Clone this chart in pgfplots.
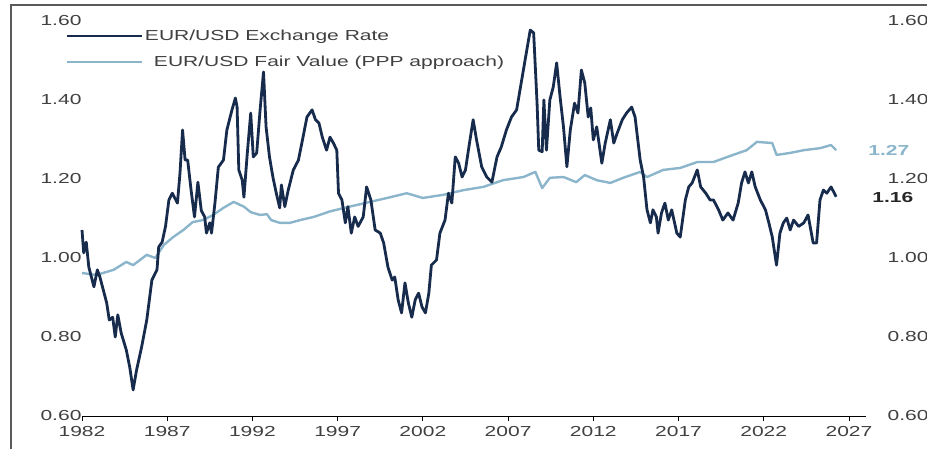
\documentclass[border=0pt]{standalone}
\usepackage{fontspec}
\setmainfont{Liberation Sans}[FakeStretch=1.45]
\usepackage{pgfplots}
\pgfplotsset{compat=1.18}
\definecolor{navy}{HTML}{172B4D}
\definecolor{lblue}{HTML}{8BB5CB}
\definecolor{txt}{HTML}{404040}
\definecolor{frame}{HTML}{5A5A5A}
\newcommand{\lbl}{\fontsize{14.5}{17}\selectfont}
\begin{document}
\begin{tikzpicture}[x=1pt,y=1pt]
\begin{axis}[
  at={(82pt,32pt)}, anchor=south west,
  width=784pt, height=395pt, scale only axis,
  xmin=1982, xmax=2028, ymin=0.6, ymax=1.6,
  axis x line=bottom, axis y line=left,
  x axis line style={-, black, line width=0.9pt},
  y axis line style={draw=none},
  xtick={1982,1987,...,2027},
  ytick={0.6,0.8,1.0,1.2,1.4,1.6},
  tick align=outside, major tick length=5pt,
  xtick style={black, line width=0.8pt},
  ytick style={draw=none},
  /pgf/number format/assume math mode=true,
  xticklabel style={font=\lbl, text=txt, yshift=-2pt, /pgf/number format/1000 sep={}},
  yticklabel style={font=\lbl, text=txt, xshift=8pt, /pgf/number format/fixed, /pgf/number format/fixed zerofill, /pgf/number format/precision=2},
  clip=false,
  reverse legend,
  legend cell align=left,
  legend style={at={(-0.0217,0.983)}, anchor=north west, draw=none, fill=none, font=\lbl, row sep=10pt, inner sep=0pt, nodes={inner sep=2pt, text=txt}},
  legend image code/.code={\draw[#1] (0pt,0pt) -- (75pt,0pt);},
]
\addplot[lblue, line width=2.4pt, line join=round] coordinates {
(1982.0,0.962)(1982.85,0.957)(1983.85,0.97)(1984.6,0.99)(1985.0,0.982)(1985.8,1.008)(1986.3,1.0)(1986.8,1.033)(1987.35,1.053)(1987.95,1.071)(1988.5,1.091)(1989.1,1.096)(1989.7,1.109)(1990.3,1.127)(1990.9,1.142)(1991.5,1.13)(1991.9,1.116)(1992.45,1.109)(1992.85,1.111)(1993.1,1.096)(1993.6,1.089)(1994.2,1.089)(1994.8,1.096)(1995.6,1.104)(1996.55,1.118)(1997.7,1.13)(1998.9,1.142)(2000.1,1.154)(2001.05,1.164)(2002.0,1.152)(2003.2,1.16)(2004.4,1.172)(2005.55,1.18)(2006.7,1.197)(2007.9,1.205)(2008.6,1.218)(2009.0,1.177)(2009.45,1.203)(2010.25,1.205)(2011.0,1.192)(2011.5,1.21)(2012.2,1.197)(2013.0,1.19)(2013.75,1.203)(2014.75,1.218)(2015.15,1.205)(2016.1,1.223)(2017.1,1.228)(2018.1,1.243)(2019.05,1.243)(2020.2,1.261)(2021.0,1.273)(2021.6,1.294)(2022.5,1.291)(2022.75,1.261)(2023.55,1.266)(2024.35,1.273)(2025.3,1.278)(2025.95,1.286)(2026.25,1.273)
};
\addlegendentry{\hspace{9pt}EUR/USD Fair Value (PPP approach)}
\addplot[navy, line width=2.8pt, line join=round] coordinates {
(1982.0,1.071)(1982.1,1.013)(1982.25,1.04)(1982.4,0.977)(1982.7,0.927)(1982.9,0.97)(1983.05,0.952)(1983.45,0.886)(1983.6,0.843)(1983.8,0.85)(1983.95,0.80)(1984.1,0.856)(1984.3,0.81)(1984.6,0.767)(1984.8,0.724)(1985.0,0.666)(1985.2,0.716)(1985.5,0.775)(1985.8,0.843)(1986.1,0.944)(1986.4,0.97)(1986.5,1.028)(1986.7,1.04)(1986.9,1.08)(1987.1,1.147)(1987.3,1.164)(1987.6,1.139)(1987.75,1.215)(1987.9,1.324)(1988.05,1.248)(1988.2,1.248)(1988.4,1.172)(1988.6,1.104)(1988.8,1.192)(1989.0,1.12)(1989.2,1.104)(1989.3,1.063)(1989.5,1.089)(1989.6,1.063)(1989.8,1.139)(1990.0,1.23)(1990.3,1.248)(1990.5,1.324)(1990.8,1.375)(1991.0,1.405)(1991.1,1.382)(1991.2,1.223)(1991.4,1.197)(1991.5,1.154)(1991.7,1.266)(1991.9,1.367)(1992.05,1.256)(1992.25,1.266)(1992.45,1.375)(1992.65,1.471)(1992.8,1.332)(1993.0,1.256)(1993.2,1.205)(1993.4,1.164)(1993.6,1.127)(1993.7,1.185)(1993.9,1.13)(1994.1,1.172)(1994.4,1.223)(1994.7,1.248)(1994.9,1.291)(1995.2,1.357)(1995.5,1.375)(1995.7,1.35)(1995.9,1.342)(1996.1,1.306)(1996.35,1.273)(1996.55,1.306)(1996.75,1.291)(1996.95,1.273)(1997.05,1.164)(1997.25,1.147)(1997.45,1.089)(1997.6,1.13)(1997.8,1.063)(1998.0,1.104)(1998.2,1.08)(1998.5,1.104)(1998.7,1.18)(1998.95,1.147)(1999.2,1.071)(1999.5,1.063)(1999.7,1.038)(1999.95,0.977)(2000.2,0.944)(2000.35,0.952)(2000.55,0.894)(2000.75,0.861)(2000.95,0.937)(2001.15,0.886)(2001.35,0.85)(2001.55,0.894)(2001.75,0.911)(2001.95,0.876)(2002.15,0.861)(2002.35,0.911)(2002.5,0.982)(2002.8,0.995)(2003.0,1.063)(2003.3,1.096)(2003.5,1.164)(2003.7,1.139)(2003.9,1.256)(2004.1,1.24)(2004.3,1.205)(2004.5,1.223)(2004.7,1.281)(2004.95,1.35)(2005.15,1.299)(2005.45,1.231)(2005.75,1.205)(2006.05,1.192)(2006.35,1.256)(2006.6,1.281)(2006.9,1.324)(2007.2,1.357)(2007.5,1.375)(2007.8,1.451)(2008.1,1.527)(2008.3,1.577)(2008.5,1.57)(2008.7,1.392)(2008.8,1.273)(2009.0,1.269)(2009.1,1.40)(2009.25,1.273)(2009.45,1.40)(2009.65,1.433)(2009.85,1.494)(2010.05,1.408)(2010.25,1.332)(2010.45,1.231)(2010.65,1.324)(2010.9,1.392)(2011.1,1.367)(2011.3,1.476)(2011.5,1.443)(2011.7,1.357)(2011.85,1.38)(2012.0,1.299)(2012.2,1.332)(2012.5,1.24)(2012.7,1.291)(2013.0,1.35)(2013.2,1.291)(2013.4,1.316)(2013.7,1.35)(2013.95,1.367)(2014.25,1.382)(2014.45,1.357)(2014.75,1.248)(2014.95,1.205)(2015.15,1.122)(2015.35,1.089)(2015.5,1.122)(2015.7,1.104)(2015.8,1.063)(2016.0,1.114)(2016.2,1.139)(2016.4,1.096)(2016.6,1.122)(2016.9,1.063)(2017.1,1.053)(2017.4,1.147)(2017.6,1.18)(2017.8,1.19)(2018.1,1.223)(2018.3,1.18)(2018.6,1.164)(2018.85,1.147)(2019.05,1.147)(2019.35,1.122)(2019.6,1.096)(2019.9,1.114)(2020.2,1.096)(2020.5,1.139)(2020.7,1.19)(2020.9,1.218)(2021.1,1.19)(2021.3,1.218)(2021.5,1.18)(2021.8,1.147)(2022.1,1.122)(2022.3,1.089)(2022.5,1.053)(2022.75,0.982)(2022.95,1.063)(2023.15,1.089)(2023.35,1.101)(2023.55,1.071)(2023.75,1.096)(2024.05,1.08)(2024.35,1.089)(2024.6,1.109)(2024.9,1.038)(2025.1,1.038)(2025.3,1.147)(2025.5,1.172)(2025.7,1.164)(2025.95,1.18)(2026.25,1.155)
};
\addlegendentry{EUR/USD Exchange Rate}
\node[anchor=west, font=\lbl\bfseries, text=lblue, inner sep=0pt] at (axis cs:2028.13,1.273) {1.27};
\node[anchor=west, font=\lbl\bfseries, text=black!85, inner sep=0pt] at (axis cs:2028.36,1.154) {1.16};
\end{axis}
\begin{axis}[
  at={(82pt,32pt)}, anchor=south west,
  width=784pt, height=395pt, scale only axis,
  xmin=1982, xmax=2028, ymin=0.6, ymax=1.6,
  axis x line=none, axis y line=right,
  y axis line style={draw=none},
  ytick={0.6,0.8,1.0,1.2,1.4,1.6},
  ytick style={draw=none},
  /pgf/number format/assume math mode=true,
  yticklabel style={font=\lbl, text=txt, xshift=16pt, /pgf/number format/fixed, /pgf/number format/fixed zerofill, /pgf/number format/precision=2},
]
\addplot[draw=none] coordinates {(1982,1)};
\end{axis}
\draw[frame, line width=1.2pt] (11,-10) -- (11,443) -- (940,443);
\pgfresetboundingbox
\useasboundingbox (0,0) rectangle (927,448);
\end{tikzpicture}
\end{document}
